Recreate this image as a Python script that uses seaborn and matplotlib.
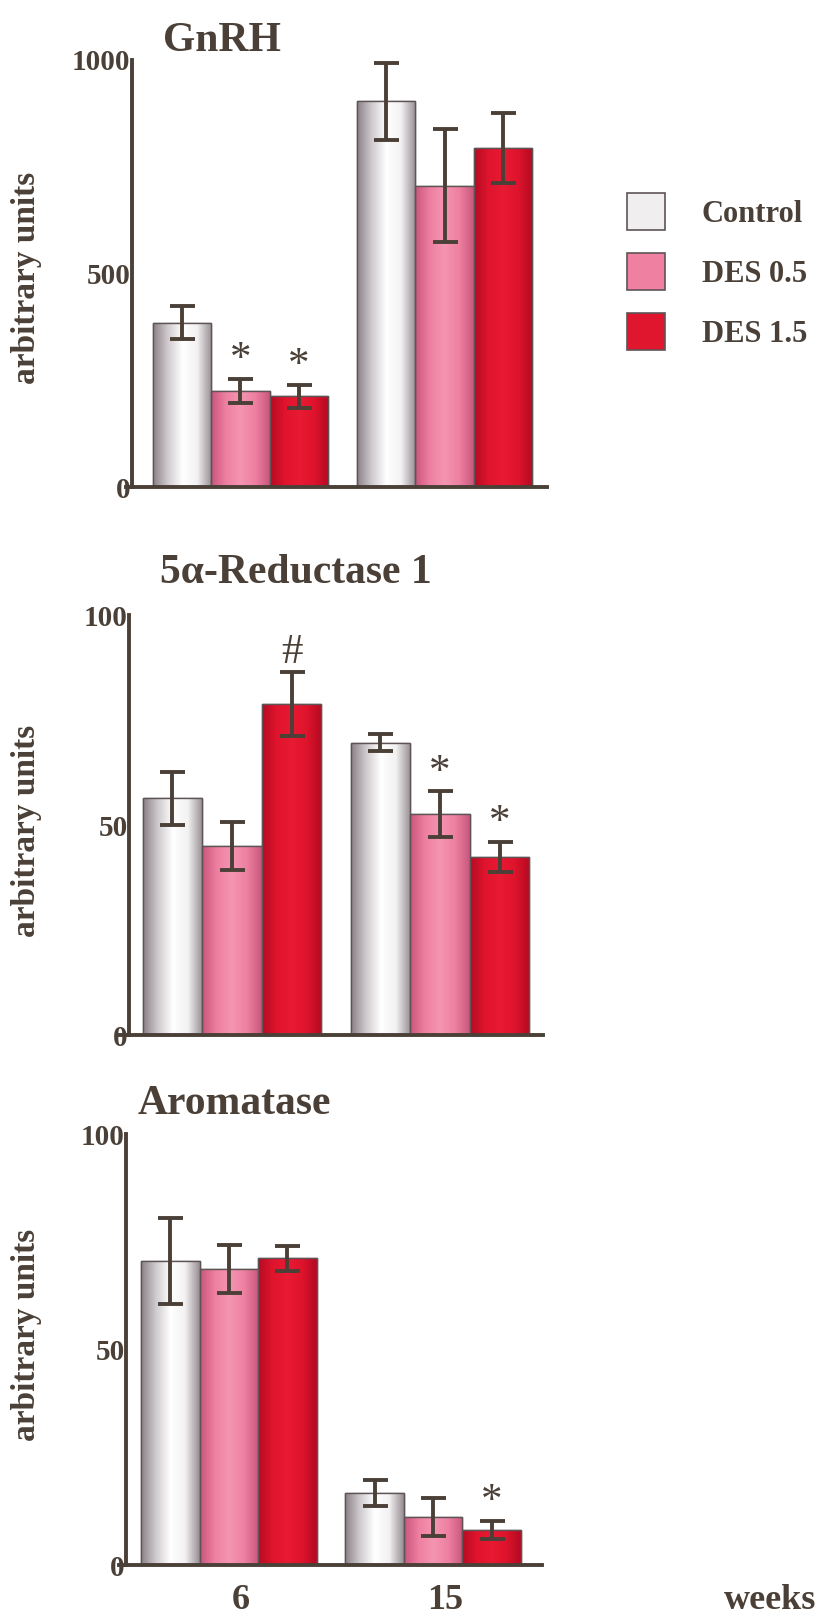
import numpy as np
import pandas as pd
import matplotlib
matplotlib.use("Agg")
import matplotlib.pyplot as plt
import matplotlib.transforms as mtransforms
import seaborn as sns
from matplotlib.colors import LinearSegmentedColormap
from matplotlib.patches import Rectangle, Patch

# ---------------- data ----------------
weeks = ["6", "15"]
groups = ["Control", "DES 0.5", "DES 1.5"]

gnrh_control = [385, 903]
gnrh_des05 = [225, 706]
gnrh_des15 = [212, 794]
gnrh_control_err = [38, 90]
gnrh_des05_err = [29, 132]
gnrh_des15_err = [28, 82]
gnrh_marks = [("6", "DES 0.5", "*"), ("6", "DES 1.5", "*")]

red_control = [56.4, 69.6]
red_des05 = [45.0, 52.6]
red_des15 = [78.8, 42.4]
red_control_err = [6.3, 2.0]
red_des05_err = [5.7, 5.5]
red_des15_err = [7.7, 3.6]
red_marks = [("6", "DES 1.5", "#"), ("15", "DES 0.5", "*"), ("15", "DES 1.5", "*")]

aro_control = [70.6, 16.7]
aro_des05 = [68.6, 11.2]
aro_des15 = [71.2, 8.2]
aro_control_err = [10.0, 3.1]
aro_des05_err = [5.6, 4.4]
aro_des15_err = [2.9, 2.1]
aro_marks = [("15", "DES 1.5", "*")]

gnrh_ticks = [0, 500, 1000]
pct_ticks = [0, 50, 100]

# ---------------- style ----------------
sns.set_style("white")
plt.rcParams["font.family"] = ["Liberation Serif", "DejaVu Serif"]
plt.rcParams["font.weight"] = "bold"

TXT = "#4a4037"
AX = "#4b4037"
EDGE = "#5e5456"
flat = ["#f1eeef", "#ef80a2", "#e0152e"]
stops = [
    ["#8a8087", "#cfcacd", "#ffffff", "#f3f1f2", "#958c92"],
    ["#c9557c", "#ee7fa1", "#f595b2", "#ee80a2", "#c9577d"],
    ["#b50b23", "#df142d", "#e91a33", "#de132c", "#b30a22"],
]

W, H = 821, 1619
fig = plt.figure(figsize=(W / 100, H / 100), dpi=100)
fig.patch.set_facecolor("white")


def frect(l, r, top, bottom):
    return [l / W, 1 - bottom / H, (r - l) / W, (bottom - top) / H]


panels = [
    dict(title="GnRH", tpos=(163, 51), ylab_y=278,
         means=[gnrh_control, gnrh_des05, gnrh_des15],
         errs=[gnrh_control_err, gnrh_des05_err, gnrh_des15_err],
         marks=gnrh_marks, ylim=(0, 1000), ticks=gnrh_ticks,
         rect=frect(126, 547, 60, 487), xlim=(-0.561, 1.502), spine=-0.532),
    dict(title="5\u03b1-Reductase 1", tpos=(160, 583), ylab_y=831,
         means=[red_control, red_des05, red_des15],
         errs=[red_control_err, red_des05_err, red_des15_err],
         marks=red_marks, ylim=(0, 100), ticks=pct_ticks,
         rect=frect(118, 543, 615, 1035), xlim=(-0.548, 1.495), spine=-0.495),
    dict(title="Aromatase", tpos=(138, 1114), ylab_y=1335,
         means=[aro_control, aro_des05, aro_des15],
         errs=[aro_control_err, aro_des05_err, aro_des15_err],
         marks=aro_marks, ylim=(0, 100), ticks=pct_ticks,
         rect=frect(119, 542, 1134, 1565), xlim=(-0.539, 1.534), spine=-0.505),
]

grad = np.linspace(0, 1, 256)[None, :]

for k, P in enumerate(panels):
    ax = fig.add_axes(P["rect"])
    rows = []
    for g, m, e in zip(groups, P["means"], P["errs"]):
        for w, mv, ev in zip(weeks, m, e):
            rows.append(dict(week=w, group=g, value=mv, err=ev))
    df = pd.DataFrame(rows)
    sns.barplot(data=df, x="week", y="value", hue="group", order=weeks,
                hue_order=groups, palette=flat, width=0.86, gap=0,
                errorbar=None, edgecolor=EDGE, linewidth=1.0, legend=False,
                ax=ax)

    centers = {}
    for hi, cont in enumerate(ax.containers):
        cmap = LinearSegmentedColormap.from_list(f"g{hi}", stops[hi])
        for p in cont.patches:
            x0, y0, w, h = p.get_x(), p.get_y(), p.get_width(), p.get_height()
            im = ax.imshow(grad, cmap=cmap, extent=[x0, x0 + w, y0, y0 + h],
                           aspect="auto", origin="lower", interpolation="bilinear",
                           zorder=p.get_zorder() + 0.01)
            im.set_clip_path(p)
            ax.add_patch(Rectangle((x0, y0), w, h, fill=False, edgecolor=EDGE,
                                   linewidth=1.0, zorder=p.get_zorder() + 0.02))
            wk = weeks[int(round(x0 + w / 2))]
            centers[(wk, groups[hi])] = (x0 + w / 2, h)

    xs, ys, es = [], [], []
    for _, r in df.iterrows():
        cx, hgt = centers[(r["week"], r["group"])]
        xs.append(cx); ys.append(hgt); es.append(r["err"])
    ax.errorbar(xs, ys, yerr=es, fmt="none", ecolor=AX, elinewidth=2.8,
                capsize=9, capthick=2.8, zorder=5)

    errmap = {(r["week"], r["group"]): r["err"] for _, r in df.iterrows()}
    for wk, g, sym in P["marks"]:
        cx, hgt = centers[(wk, g)]
        ax.annotate(sym, (cx, hgt + errmap[(wk, g)]), xytext=(0, 6),
                    textcoords="offset points", ha="center", va="baseline",
                    fontsize=31, fontweight="normal", color=TXT, zorder=6)

    ax.set_xlim(*P["xlim"])
    ax.set_ylim(*P["ylim"])
    ax.set_yticks(P["ticks"])
    ax.set_yticklabels([str(t) for t in P["ticks"]])
    sns.despine(ax=ax, top=True, right=True)
    ax.spines["left"].set_position(("data", P["spine"]))
    for s in ("left", "bottom"):
        ax.spines[s].set_color(AX)
        ax.spines[s].set_linewidth(2.8)
    ax.tick_params(axis="y", direction="out", length=4, width=2.2, color=AX,
                   pad=-3, labelsize=21, labelcolor=TXT)
    ax.set_xlabel("")
    ax.set_ylabel("")
    if k == 2:
        ax.tick_params(axis="x", length=0, pad=14, labelsize=26, labelcolor=TXT)
        shift = mtransforms.ScaledTranslation(12 / 100, 0, fig.dpi_scale_trans)
        for lab in ax.get_xticklabels():
            lab.set_transform(lab.get_transform() + shift)
    else:
        ax.tick_params(axis="x", length=0, labelbottom=False)
    ax.set_facecolor("none")

    fig.text(P["tpos"][0] / W, 1 - P["tpos"][1] / H, P["title"], fontsize=30,
             ha="left", va="baseline", color=TXT)
    fig.text(27 / W, 1 - P["ylab_y"] / H, "arbitrary units", rotation=90,
             ha="center", va="center", fontsize=24, color=TXT)

fig.text(770 / W, 1 - 1600 / H, "weeks", ha="center", va="center",
         fontsize=26, color=TXT)

handles = [Patch(facecolor=c, edgecolor=EDGE, linewidth=1.2) for c in flat]
fig.legend(handles, groups, loc="upper left", bbox_to_anchor=(627 / W, 1 - 193 / H),
           frameon=False, borderpad=0, borderaxespad=0, handlelength=1.24,
           handleheight=1.48, handletextpad=1.2, labelspacing=0.76,
           prop={"size": 22, "weight": "bold"}, labelcolor=TXT)

fig.savefig("out.png", dpi=100, facecolor="white")
